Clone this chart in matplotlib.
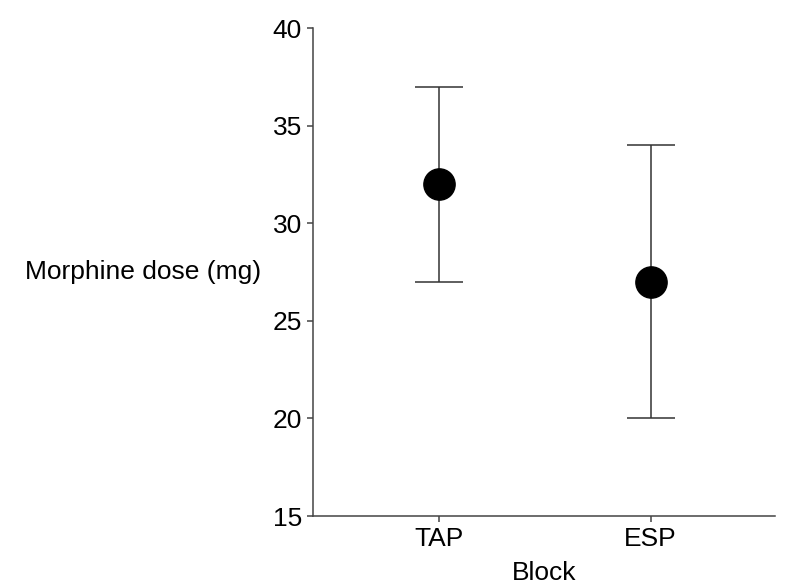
import matplotlib
matplotlib.use("Agg")
import matplotlib.pyplot as plt

categories = ["TAP", "ESP"]
means = [32, 27]
lower = [27, 20]
upper = [37, 34]

plt.rcParams['font.family'] = ['Liberation Sans', 'DejaVu Sans']

fig = plt.figure(figsize=(7.95, 5.88), dpi=100)
ax = fig.add_axes([313/795, 1-516/588, (775-313)/795, (516-28)/588])

x = list(range(len(categories)))
yerr = [[m - l for m, l in zip(means, lower)], [u - m for m, u in zip(means, upper)]]
ax.errorbar(x, means, yerr=yerr, fmt='o', color='black', ecolor='#333333',
            elinewidth=1.1, capsize=17, capthick=1.1, markersize=22.5)

ax.set_xlim(-0.597, 1.588)
ax.set_ylim(15, 40)
ax.set_yticks([15, 20, 25, 30, 35, 40])
ax.set_xticks(x)
ax.set_xticklabels(categories)

for s in ['top', 'right']:
    ax.spines[s].set_visible(False)
for s in ['left', 'bottom']:
    ax.spines[s].set_color('#444444')
    ax.spines[s].set_linewidth(1.1)
ax.tick_params(direction='out', length=4.5, width=1.1, color='#444444', labelsize=19, pad=3.5)

ax.set_xlabel("Block", fontsize=19, labelpad=7)
ax.set_ylabel("Morphine dose (mg)", fontsize=19, rotation=0, ha='right', va='center')
ax.yaxis.set_label_coords(-0.113, 0.5)

fig.savefig("out.png", dpi=100)
